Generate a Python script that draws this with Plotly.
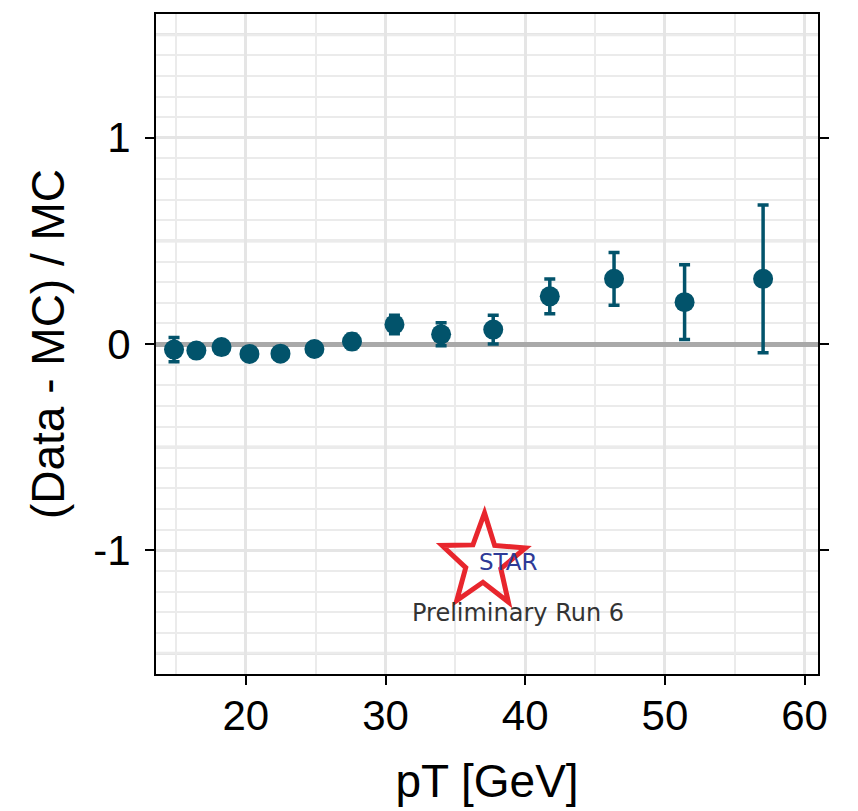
import math
import plotly.graph_objects as go

# ---- data ----
pt = [14.86, 16.46, 18.26, 20.26, 22.48, 24.91, 27.60, 30.64, 33.98, 37.71, 41.76, 46.36, 51.41, 57.03]
ratio = [-0.027, -0.032, -0.015, -0.048, -0.047, -0.024, 0.012, 0.095, 0.047, 0.070, 0.231, 0.316, 0.203, 0.316]
ratio_err = [0.059, 0.025, 0.025, 0.025, 0.030, 0.030, 0.035, 0.045, 0.056, 0.070, 0.084, 0.128, 0.181, 0.358]

x_ticks = [20, 30, 40, 50, 60]
y_ticks = [-1, 0, 1]
y_half_grid = [-1.5, -0.5, 0.5, 1.5]

MARK = "#02536b"
TICKFONT = dict(family="Liberation Sans, Arial, sans-serif", size=42, color="black")
TITLEFONT = dict(family="Liberation Sans, Arial, sans-serif", size=46, color="black")

fig = go.Figure()
fig.add_trace(go.Scatter(
    x=pt, y=ratio, mode="markers",
    marker=dict(color=MARK, size=20, line=dict(width=0)),
    error_y=dict(type="data", array=ratio_err, color=MARK, thickness=3.5, width=5.5),
    showlegend=False,
))

shapes = []
for v in y_half_grid:
    shapes.append(dict(type="line", xref="paper", x0=0, x1=1, yref="y", y0=v, y1=v,
                       line=dict(color="#e5e5e5", width=3.3), layer="below"))

# STAR logo (decorative star outline)
R_out, R_in, rot, xsq = 48.8, 20.5, 1.5, 0.9
pts = []
for k in range(10):
    ang = math.radians(90 - rot - k * 36)
    r = R_out if k % 2 == 0 else R_in
    pts.append((xsq * r * math.cos(ang), r * math.sin(ang)))
path = "M " + " L ".join(f"{px:.1f},{py:.1f}" for px, py in pts) + " Z"
shapes.append(dict(type="path", path=path, xsizemode="pixel", ysizemode="pixel",
                   xref="x", yref="y", xanchor=37.01, yanchor=-1.056,
                   line=dict(color="#e8262d", width=5), fillcolor="rgba(0,0,0,0)",
                   layer="above"))

fig.update_layout(
    width=858, height=811,
    margin=dict(l=156, r=40, t=12, b=137),
    paper_bgcolor="white", plot_bgcolor="white",
    shapes=shapes,
    annotations=[
        dict(x=38.82, y=-1.058, xref="x", yref="y", text="STAR", showarrow=False,
             font=dict(family="DejaVu Sans, sans-serif", size=23, color="#2e3a97"),
             xanchor="center", yanchor="middle"),
        dict(x=39.51, y=-1.305, xref="x", yref="y", text="Preliminary Run 6", showarrow=False,
             font=dict(family="DejaVu Sans, sans-serif", size=24, color="#333333"),
             xanchor="center", yanchor="middle"),
    ],
)

fig.update_xaxes(
    range=[13.57, 60.96],
    tickmode="array", tickvals=x_ticks, ticktext=[str(v) for v in x_ticks],
    ticks="outside", ticklen=9, tickwidth=2, tickcolor="black",
    tickfont=TICKFONT, ticklabelstandoff=-5,
    showline=True, linecolor="black", linewidth=2, mirror=True,
    showgrid=True, gridcolor="#e5e5e5", gridwidth=3.3,
    minor=dict(dtick=5, tick0=0, showgrid=True, gridcolor="#ebebeb", gridwidth=1.7),
    zeroline=False,
    title=dict(text="pT [GeV]", font=TITLEFONT, standoff=26),
)
fig.update_yaxes(
    range=[-1.6, 1.6],
    tickmode="array", tickvals=y_ticks, ticktext=[str(v) for v in y_ticks],
    ticks="outside", ticklen=9, tickwidth=2, tickcolor="black",
    tickfont=TICKFONT, ticklabelstandoff=6,
    showline=True, linecolor="black", linewidth=2, mirror="ticks",
    showgrid=True, gridcolor="#e5e5e5", gridwidth=3.3,
    minor=dict(dtick=0.1, tick0=0, showgrid=True, gridcolor="#ebebeb", gridwidth=1.7),
    zeroline=True, zerolinecolor="#a9a9a9", zerolinewidth=5,
    title=dict(text="(Data - MC) / MC", font=TITLEFONT, standoff=14),
)

fig.write_html("out.html")
